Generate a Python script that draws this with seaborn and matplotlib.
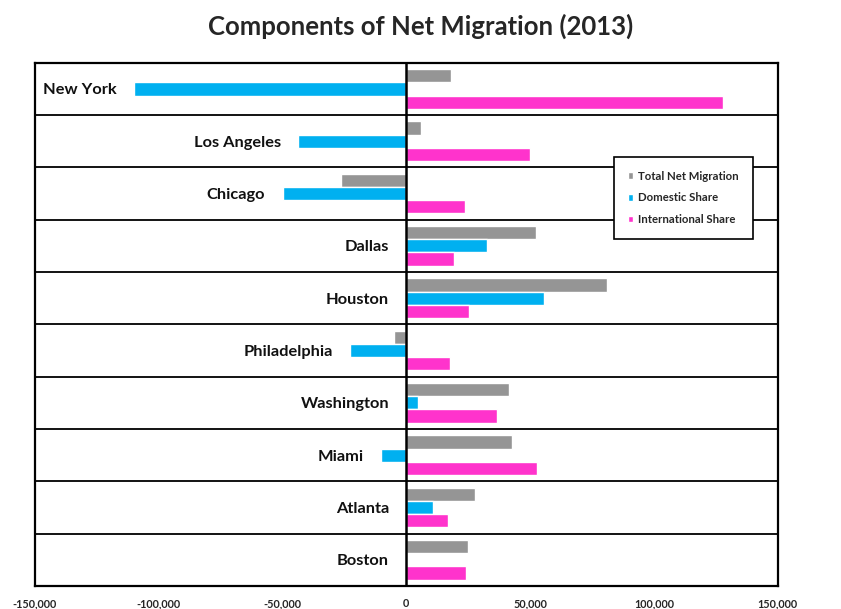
import matplotlib
matplotlib.use("Agg")
import matplotlib.pyplot as plt
import seaborn as sns
import pandas as pd

cities = ["New York", "Los Angeles", "Chicago", "Dallas", "Houston",
          "Philadelphia", "Washington", "Miami", "Atlanta", "Boston"]
total_net = [17900, 6000, -26300, 52300, 81200, -5000, 41400, 42600, 27700, 25100]
domestic = [-110100, -43700, -50000, 32500, 55500, -22600, 4600, -10100, 10800, 300]
international = [128000, 49900, 23500, 19400, 25300, 17600, 36800, 52700, 16800, 24100]
series = ["Total Net Migration", "Domestic Share", "International Share"]
ticks = [-150000, -100000, -50000, 0, 50000, 100000, 150000]

sns.set_style("white")
plt.rcParams["font.family"] = ["Lato", "DejaVu Sans"]
plt.rcParams["font.weight"] = "bold"

df = pd.DataFrame({
    "city": cities * 3,
    "value": total_net + domestic + international,
    "series": [series[0]] * 10 + [series[1]] * 10 + [series[2]] * 10,
})

fig = plt.figure(figsize=(8.41, 6.09), dpi=100)
ax = fig.add_axes([0.0416, 0.0378, 0.8831, 0.8592])

sns.barplot(data=df, x="value", y="city", hue="series", order=cities,
            hue_order=series, orient="h", width=0.76, saturation=1,
            palette=["#959595", "#00B0F0", "#FF33CC"], ax=ax)

ax.set_xlim(-150000, 150000)
ax.set_ylim(9.5, -0.5)
ax.set_xticks(ticks)
ax.set_xticklabels([f"{t:,}" for t in ticks], fontsize=7.8, fontweight="bold")
ax.tick_params(axis="x", length=0, pad=9)
ax.set_yticks([])
ax.set_xlabel("")
ax.set_ylabel("")

for i in range(len(cities) - 1):
    ax.axhline(i + 0.5, color="black", lw=1.3, zorder=1)
ax.axvline(0, color="black", lw=1.8, zorder=3)
for s in ax.spines.values():
    s.set_color("black")
    s.set_linewidth(1.6)

for i, c in enumerate(cities):
    low = min(0, total_net[i], domestic[i], international[i])
    ax.text(low - 7000, i + 0.03, c, ha="right", va="center", fontsize=11.8,
            fontweight="bold", color="#111111")

handles, labels = ax.get_legend_handles_labels()
leg = ax.legend(handles, labels, loc="upper left", bbox_to_anchor=(0.7796, 0.82),
                fontsize=8.2, frameon=True, fancybox=False, edgecolor="black",
                handlelength=0.5, handleheight=0.5, handletextpad=0.45,
                labelspacing=0.95, borderpad=1.2, borderaxespad=0)
leg.get_frame().set_linewidth(1.2)
leg.get_frame().set_alpha(1)
for t in leg.get_texts():
    t.set_fontweight("bold")

fig.suptitle("Components of Net Migration (2013)", x=0.5, y=0.978,
             fontsize=18.5, fontweight="bold")

fig.savefig("out.png", dpi=100)
